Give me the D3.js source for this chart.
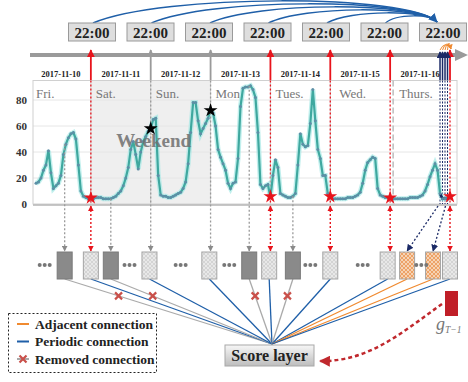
<!DOCTYPE html>
<html>
<head>
<meta charset="utf-8">
<script src="https://cdn.jsdelivr.net/npm/d3@7"></script>
<style>
  body { margin: 0; background: #fff; }
  svg { display: block; font-family: "Liberation Serif", "Times New Roman", serif; }
</style>
</head>
<body>
<div id="chart"></div>
<script>
const W = 468, H = 382;

// --- data ---
const dayNames = ["Fri.", "Sat.", "Sun.", "Mon.", "Tues.", "Wed.", "Thurs."];
const dates = ["2017-11-10", "2017-11-11", "2017-11-12", "2017-11-13", "2017-11-14", "2017-11-15", "2017-11-16"];
const marks = ["22:00", "22:00", "22:00", "22:00", "22:00", "22:00", "22:00"];
const yTicks = [0, 20, 40, 60, 80];

// hourly values, 24 per day
const fri = [null, null, 16, 17, 20, 26, 30, 41, 24, 12, 14, 16, 22, 38, 46, 51, 54, 55, 50, 30, 10, 6, 5, 4];
const sat = [4, 4, 5, 5, 5, 4, 4, 4, 4, 5, 6, 8, 10, 14, 20, 28, 42, 48, 38, 27, 40, 48, 52, 56];
const sun = [58, 65, 66, 22, 7, 6, 6, 5, 5, 6, 7, 8, 9, 12, 17, 31, 55, 78, 78, 64, 54, 58, 62, 66];
const mon = [72, 70, 60, 42, 36, 31, 26, 16, 12, 16, 17, 35, 75, 89, 90, 90, 91, 88, 82, 55, 15, 12, 14, 15];
const tue = [5, 22, 34, 28, 8, 7, 6, 5, 5, 6, 8, 30, 54, 46, 44, 45, 62, 88, 64, 42, 35, 22, 22, 8];
const wed = [5, 4, 4, 4, 4, 4, 4, 5, 5, 5, 6, 7, 9, 16, 26, 32, 34, 36, 35, 12, 7, 6, 5, 5];
const thu = [4, 4, 4, 4, 4, 4, 4, 4, 5, 5, 5, 5, 6, 7, 10, 15, 21, 26, 31, 26, 8, 4, 4, 4];
const nowValue = [5];

const periodicHours = [24, 96, 120, 144, 168];   // red: same time, earlier days
const weekendHours = [48, 72];                   // grey: removed weekend days
const adjacentHours = [164, 165, 166, 167];      // navy: last hours

// bottom row of cells, positioned on the hour axis
const slots = [
  { kind: "dots", h: 5.5 },
  { kind: "dark", h: 13.5 },
  { kind: "hatch", h: 24 },
  { kind: "dark", h: 32 },
  { kind: "dots", h: 39.5 },
  { kind: "hatch", h: 47.5 },
  { kind: "dots", h: 60 },
  { kind: "hatch", h: 71.5 },
  { kind: "dots", h: 79.5 },
  { kind: "dark", h: 87.5 },
  { kind: "hatch", h: 95.5 },
  { kind: "dark", h: 105 },
  { kind: "dots", h: 112 },
  { kind: "hatch", h: 120 },
  { kind: "dots", h: 133 },
  { kind: "hatch", h: 143 },
  { kind: "adj", h: 150.8 },
  { kind: "dots", h: 156.5 },
  { kind: "adj", h: 161.2 },
  { kind: "hatch", h: 168 }
];

const legendItems = [
  { label: "Adjacent connection", color: "#f08a30", x: false },
  { label: "Periodic connection", color: "#1f5fa8", x: false },
  { label: "Removed connection", color: "#aaa", x: true }
];

const series = [].concat(fri, sat, sun, mon, tue, wed, thu, nowValue)
  .map((v, i) => ({ h: i, v }));

// --- scales ---
const x = d3.scaleLinear().domain([0, 168]).range([31, 450]);
const y = d3.scaleLinear().domain([0, 80]).range([204, 100]);
const bx = d3.scalePoint().domain(d3.range(marks.length)).range([92, 443]);

const RED = "#e8141c", GREY = "#9a9a9a", NAVY = "#1b2a66", BLUE = "#1f5fa8", ORANGE = "#f08a30";
const chartTop = y(95), chartBottom = y(0);
const cellTop = 252, cellH = 27, cellW = 15;
const sink = [272, 344];

const svg = d3.select("#chart").append("svg")
  .attr("width", W)
  .attr("height", H);

const defs = svg.append("defs");

function marker(id, color, size) {
  defs.append("marker")
    .attr("id", id)
    .attr("viewBox", "0 0 10 10")
    .attr("refX", 9).attr("refY", 5)
    .attr("markerUnits", "userSpaceOnUse")
    .attr("markerWidth", size).attr("markerHeight", size)
    .attr("orient", "auto-start-reverse")
    .append("path")
    .attr("d", "M0,0L10,5L0,10z")
    .attr("fill", color);
}
marker("aRed", RED, 8);
marker("aGrey", GREY, 8);
marker("aNavy", NAVY, 7);
marker("aBlue", BLUE, 9);
marker("aOrange", ORANGE, 5);
marker("aDark", "#c0282d", 11);
marker("aSmallRed", RED, 6);
marker("aSmallGrey", "#8a8a8a", 6);

function hatch(id, bg, fg) {
  const p = defs.append("pattern")
    .attr("id", id)
    .attr("width", 4).attr("height", 4)
    .attr("patternUnits", "userSpaceOnUse");
  p.append("rect").attr("width", 4).attr("height", 4).attr("fill", bg);
  p.append("path").attr("d", "M0,0L4,4M4,0L0,4").attr("stroke", fg).attr("stroke-width", 0.7);
}
hatch("hGrey", "#d4d4d4", "#f0f0f0");
hatch("hOrange", "#f6d3b4", "#e98c46");

const grad = defs.append("linearGradient").attr("id", "gScore").attr("x1", 0).attr("x2", 0).attr("y1", 0).attr("y2", 1);
grad.append("stop").attr("offset", "0%").attr("stop-color", "#f7f7f7");
grad.append("stop").attr("offset", "100%").attr("stop-color", "#bdbdbd");

// --- top: 22:00 boxes and periodic arcs ---
const arcs = svg.append("g").attr("fill", "none").attr("stroke", BLUE).attr("stroke-width", 1.5);
d3.range(marks.length - 1).forEach(k => {
  const x0 = bx(k) + 1, y0 = 23;
  const xe = bx(marks.length - 1) - 6, ye = 22;
  const d = xe - x0;
  const rise = 7 + (marks.length - 2 - k) * 3;
  const yc = y0 - rise / 0.75;
  arcs.append("path")
    .attr("d", `M${x0},${y0}C${x0 + d * 0.2},${yc} ${xe - d * 0.08},${yc} ${xe},${ye}`)
    .attr("marker-end", k === 0 ? "url(#aBlue)" : null);
});

svg.append("g")
  .selectAll("rect")
  .data(marks)
  .join("rect")
  .attr("x", (d, i) => bx(i) - 23.5)
  .attr("y", 23)
  .attr("width", 47)
  .attr("height", 18)
  .attr("fill", "#dedede")
  .attr("stroke", "#9a9a9a");

svg.append("g")
  .selectAll("text")
  .data(marks)
  .join("text")
  .attr("x", (d, i) => bx(i))
  .attr("y", 37.5)
  .attr("text-anchor", "middle")
  .attr("font-size", 15)
  .attr("font-weight", "bold")
  .attr("fill", "#222")
  .text(d => d);

// time axis
svg.append("line")
  .attr("x1", 30).attr("x2", 458)
  .attr("y1", 55).attr("y2", 55)
  .attr("stroke", GREY).attr("stroke-width", 4);
svg.append("path")
  .attr("d", "M455,49L468,55L455,61Z")
  .attr("fill", GREY);

// arrows from chart up to the axis
const ups = svg.append("g").attr("stroke-width", 1.8);
periodicHours.forEach(h => ups.append("line")
  .attr("x1", x(h)).attr("x2", x(h)).attr("y1", chartTop).attr("y2", 50)
  .attr("stroke", RED).attr("marker-end", "url(#aRed)"));
weekendHours.forEach(h => ups.append("line")
  .attr("x1", x(h)).attr("x2", x(h)).attr("y1", chartTop).attr("y2", 50)
  .attr("stroke", GREY).attr("marker-end", "url(#aGrey)"));
adjacentHours.forEach(h => ups.append("line")
  .attr("x1", x(h)).attr("x2", x(h)).attr("y1", chartTop).attr("y2", 52)
  .attr("stroke", NAVY).attr("stroke-width", 1.5).attr("marker-end", "url(#aNavy)"));

// small adjacent arcs over the cluster
adjacentHours.forEach((h, i) => svg.append("path")
  .attr("d", `M${x(h)},50Q${(x(h) + x(168)) / 2},${40 - i},${x(168) + 1},49`)
  .attr("fill", "none").attr("stroke", ORANGE).attr("stroke-width", 1)
  .attr("marker-end", i === adjacentHours.length - 1 ? "url(#aOrange)" : null));

// --- chart ---
svg.append("rect")
  .attr("x", x(24)).attr("y", chartTop)
  .attr("width", x(72) - x(24)).attr("height", chartBottom - chartTop)
  .attr("fill", "#efefef");

svg.append("g")
  .selectAll("line")
  .data(yTicks.slice(1))
  .join("line")
  .attr("x1", 33).attr("x2", 457)
  .attr("y1", d => y(d)).attr("y2", d => y(d))
  .attr("stroke", "#e6e6e6");

svg.append("rect")
  .attr("x", 33).attr("y", chartTop)
  .attr("width", 424).attr("height", chartBottom - chartTop)
  .attr("fill", "none").attr("stroke", "#d0d0d0");

svg.append("g")
  .selectAll("line")
  .data(d3.range(1, 7))
  .join("line")
  .attr("x1", d => x(d * 24) + (d === 6 ? 3 : 0))
  .attr("x2", d => x(d * 24) + (d === 6 ? 3 : 0))
  .attr("y1", chartTop).attr("y2", chartBottom)
  .attr("stroke", d => d === 6 ? "#bdbdbd" : "#d0d0d0")
  .attr("stroke-width", d => d === 6 ? 1.5 : 1)
  .attr("stroke-dasharray", d => d === 6 ? "6,3" : null);

svg.append("line")
  .attr("x1", 33).attr("x2", 457)
  .attr("y1", chartBottom + 1).attr("y2", chartBottom + 1)
  .attr("stroke", "#b5b5b5").attr("stroke-width", 1.5);

svg.append("g")
  .selectAll("text")
  .data(yTicks)
  .join("text")
  .attr("x", 27)
  .attr("y", d => y(d) + 4)
  .attr("text-anchor", "end")
  .attr("font-size", 11)
  .attr("font-weight", "bold")
  .attr("fill", "#333")
  .text(d => d);

svg.append("g")
  .selectAll("text")
  .data(dates)
  .join("text")
  .attr("x", (d, i) => x(i * 24 + 12))
  .attr("y", 77)
  .attr("text-anchor", "middle")
  .attr("font-size", 8.5)
  .attr("font-weight", "bold")
  .attr("fill", "#222")
  .text(d => d);

svg.append("g")
  .selectAll("text")
  .data(dayNames)
  .join("text")
  .attr("x", (d, i) => x(i * 24) + (i === 0 ? 5 : i > 4 ? 9 : 5))
  .attr("y", 98)
  .attr("font-size", 13)
  .attr("fill", "#777")
  .text(d => d);

// vertical guide lines inside chart
const guides = svg.append("g").attr("stroke-width", 1.3);
periodicHours.forEach(h => guides.append("line")
  .attr("x1", x(h)).attr("x2", x(h)).attr("y1", chartTop).attr("y2", chartBottom)
  .attr("stroke", RED).attr("stroke-dasharray", "2,2"));
adjacentHours.forEach(h => guides.append("line")
  .attr("x1", x(h)).attr("x2", x(h)).attr("y1", chartTop).attr("y2", chartBottom)
  .attr("stroke", NAVY).attr("stroke-width", 1).attr("stroke-dasharray", "2,1.5"));

// the series
const line = d3.line()
  .defined(d => d.v !== null)
  .x(d => x(d.h))
  .y(d => y(d.v));

svg.append("path")
  .datum(series)
  .attr("d", line)
  .attr("fill", "none")
  .attr("stroke", "#a6e8e6")
  .attr("stroke-width", 5)
  .attr("stroke-opacity", 0.7);

svg.append("path")
  .datum(series)
  .attr("d", line)
  .attr("fill", "none")
  .attr("stroke", "#3fa89f")
  .attr("stroke-width", 2.2);

svg.append("path")
  .datum(series.filter(d => d.h >= adjacentHours[0]))
  .attr("d", line)
  .attr("fill", "none")
  .attr("stroke", NAVY)
  .attr("stroke-width", 2.5);

svg.append("g")
  .selectAll("circle")
  .data(series.filter(d => d.v !== null))
  .join("circle")
  .attr("cx", d => x(d.h))
  .attr("cy", d => y(d.v))
  .attr("r", 1.5)
  .attr("fill", "#5d8fa6");

svg.append("text")
  .attr("x", x(48) + 3)
  .attr("y", y(44))
  .attr("text-anchor", "middle")
  .attr("font-size", 19)
  .attr("font-weight", "bold")
  .attr("fill", "#6f6f6f")
  .attr("opacity", 0.85)
  .text("Weekend");

// grey dotted arrows from the removed / weekend points down to the cells
const downs = svg.append("g").attr("stroke", GREY).attr("stroke-width", 1.3).attr("stroke-dasharray", "2,2");
slots.filter(s => s.kind === "dark").forEach(s => {
  const v = series[Math.round(s.h)].v;
  downs.append("line")
    .attr("x1", x(s.h)).attr("x2", x(s.h))
    .attr("y1", y(v)).attr("y2", cellTop - 1)
    .attr("marker-end", "url(#aSmallGrey)");
});
weekendHours.forEach(h => downs.append("line")
  .attr("x1", x(h)).attr("x2", x(h))
  .attr("y1", chartTop).attr("y2", cellTop - 1)
  .attr("marker-end", "url(#aSmallGrey)"));

// red dotted double arrows
periodicHours.forEach(h => svg.append("line")
  .attr("x1", x(h)).attr("x2", x(h))
  .attr("y1", chartBottom + 2).attr("y2", cellTop - 1)
  .attr("stroke", RED).attr("stroke-width", 1.4).attr("stroke-dasharray", "2,2")
  .attr("marker-start", "url(#aSmallRed)")
  .attr("marker-end", "url(#aSmallRed)"));

// navy dotted arrows to the adjacent cells
const adjSlots = slots.filter(s => s.kind === "adj");
[adjacentHours[0], adjacentHours[3]].forEach((h, i) => svg.append("line")
  .attr("x1", x(h) - 2).attr("x2", x(adjSlots[i].h))
  .attr("y1", chartBottom + 2).attr("y2", cellTop - 1)
  .attr("stroke", NAVY).attr("stroke-width", 1.3).attr("stroke-dasharray", "2,2")
  .attr("marker-end", "url(#aNavy)"));

// stars
const star = d3.symbol().type(d3.symbolStar);
svg.append("g")
  .selectAll("path")
  .data(periodicHours)
  .join("path")
  .attr("transform", h => `translate(${x(h)},${y(series[h].v) - 1})`)
  .attr("d", star.size(60))
  .attr("fill", RED);
svg.append("g")
  .selectAll("path")
  .data(weekendHours)
  .join("path")
  .attr("transform", h => `translate(${x(h)},${y(series[h].v)})`)
  .attr("d", star.size(60))
  .attr("fill", "#000");

// --- connections to the score layer ---
const conColor = { dark: "#aaa", hatch: BLUE, adj: ORANGE };
svg.append("g")
  .attr("stroke-width", 1.3)
  .selectAll("line")
  .data(slots.filter(s => s.kind !== "dots"))
  .join("line")
  .attr("x1", d => x(d.h)).attr("y1", cellTop + cellH)
  .attr("x2", sink[0]).attr("y2", sink[1])
  .attr("stroke", d => conColor[d.kind]);

function cross(g, cx, cy, r) {
  g.append("path")
    .attr("d", `M${cx - r},${cy - r}L${cx + r},${cy + r}M${cx + r},${cy - r}L${cx - r},${cy + r}`)
    .attr("stroke", "#c9504a").attr("stroke-width", 2.2);
}
const xs = svg.append("g");
slots.filter(s => s.kind === "dark").forEach(s => {
  const t = 0.26;
  cross(xs, x(s.h) + (sink[0] - x(s.h)) * t, cellTop + cellH + (sink[1] - cellTop - cellH) * t, 3.5);
});

// cells
const cellFill = { dark: "#8a8a8a", hatch: "url(#hGrey)", adj: "url(#hOrange)" };
svg.append("g")
  .selectAll("rect")
  .data(slots.filter(s => s.kind !== "dots"))
  .join("rect")
  .attr("x", d => x(d.h) - cellW / 2)
  .attr("y", cellTop)
  .attr("width", cellW)
  .attr("height", cellH)
  .attr("fill", d => cellFill[d.kind])
  .attr("stroke", d => d.kind === "dark" ? "#7a7a7a" : "#a5a5a5");

svg.append("g")
  .selectAll("g")
  .data(slots.filter(s => s.kind === "dots"))
  .join("g")
  .selectAll("circle")
  .data(d => [-5, 0, 5].map(o => x(d.h) + o))
  .join("circle")
  .attr("cx", d => d)
  .attr("cy", cellTop + 13)
  .attr("r", 2)
  .attr("fill", "#777");

// score layer
svg.append("rect")
  .attr("x", 225).attr("y", 345)
  .attr("width", 89).attr("height", 21)
  .attr("fill", "url(#gScore)")
  .attr("stroke", "#a8a8a8");
svg.append("text")
  .attr("x", 269.5).attr("y", 361)
  .attr("text-anchor", "middle")
  .attr("font-size", 16)
  .attr("font-weight", "bold")
  .attr("fill", "#222")
  .text("Score layer");

// g_{T-1}
svg.append("rect")
  .attr("x", 445).attr("y", 291)
  .attr("width", 13).attr("height", 25)
  .attr("fill", "#c01f28");
const g = svg.append("text")
  .attr("x", 436).attr("y", 330)
  .attr("fill", "#777")
  .attr("font-style", "italic");
g.append("tspan").attr("font-size", 18).text("g");
g.append("tspan").attr("font-size", 9.5).attr("dy", 3).text("T\u22121");

svg.append("path")
  .attr("d", "M442,304C405,330 370,362 320,361")
  .attr("fill", "none")
  .attr("stroke", "#c0282d")
  .attr("stroke-width", 2.5)
  .attr("stroke-dasharray", "4,3")
  .attr("marker-end", "url(#aDark)");

// legend
const lg = svg.append("g");
lg.append("rect")
  .attr("x", 8.5).attr("y", 313.5)
  .attr("width", 148).attr("height", 59)
  .attr("fill", "#fff")
  .attr("stroke", "#222")
  .attr("stroke-dasharray", "2,2");
legendItems.forEach((d, i) => {
  const ly = 324 + i * 17.5;
  lg.append("line")
    .attr("x1", 17).attr("x2", 29)
    .attr("y1", ly).attr("y2", ly)
    .attr("stroke", d.color).attr("stroke-width", 2);
  if (d.x) cross(lg, 23, ly, 3.5);
  lg.append("text")
    .attr("x", 35).attr("y", ly + 4.5)
    .attr("font-size", 13.5)
    .attr("font-weight", "bold")
    .attr("fill", "#222")
    .text(d.label);
});
</script>
</body>
</html>
